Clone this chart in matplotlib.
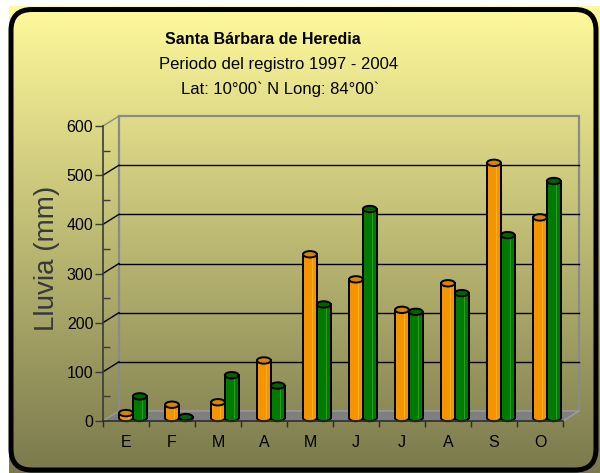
import numpy as np
import matplotlib
matplotlib.use("Agg")
import matplotlib.pyplot as plt
from matplotlib.transforms import ScaledTranslation, IdentityTransform
from matplotlib.patches import Rectangle, Ellipse, Polygon, FancyBboxPatch

plt.rcParams['font.family'] = ['Liberation Sans', 'DejaVu Sans']

# ---------------- data ----------------
months = ['E', 'F', 'M', 'A', 'M', 'J', 'J', 'A', 'S', 'O']
serie_naranja = [10, 27, 32, 117, 333, 282, 220, 274, 519, 408]
serie_verde = [44, 2, 87, 66, 231, 425, 216, 254, 372, 482]
yticks = [0, 100, 200, 300, 400, 500, 600]
title1 = 'Santa Bárbara de Heredia'
title2 = 'Periodo del registro 1997 - 2004'
title3 = 'Lat: 10°00` N Long: 84°00`'
ylabel = 'Lluvia (mm)'

W, H = 600, 473
fig = plt.figure(figsize=(W / 100, H / 100), dpi=100)
fig.patch.set_facecolor('white')

# ---------------- background ----------------
bg = fig.add_axes([0, 0, 1, 1], zorder=-5)
bg.set_xlim(0, W)
bg.set_ylim(H, 0)
bg.axis('off')
top_c = np.array([255, 250, 155]) / 255
bot_c = np.array([122, 121, 76]) / 255
t = np.linspace(0, 1, 256)[:, None]
grad = (top_c[None, :] * (1 - t) + bot_c[None, :] * t)[:, None, :]
bg.imshow(grad, extent=(9, W, H, 7), aspect='auto', interpolation='bilinear', zorder=0)
box = FancyBboxPatch((11, 9.5), 585, 460.5,
                     boxstyle='round,pad=0,rounding_size=21',
                     facecolor='none', edgecolor='black', linewidth=3.6, zorder=2)
bg.add_patch(box)

# ---------------- titles ----------------
def ftext(x, y, s, **kw):
    fig.text(x / W, 1 - y / H, s, ha='center', va='center', **kw)

ftext(263, 40, title1, fontsize=11.5, fontweight='bold', color='black')
ftext(279, 64, title2, fontsize=12, color='black')
ftext(280, 89, title3, fontsize=12, color='black')
ftext(47, 258, ylabel, fontsize=20, color='#383838', rotation=90)

# ---------------- main axes (front plane) ----------------
x0, x1, y0, y1 = 103, 563, 421, 126
ax = fig.add_axes([x0 / W, 1 - y0 / H, (x1 - x0) / W, (y0 - y1) / H])
ax.set_facecolor('none')
ax.set_xlim(0, 10)
ax.set_ylim(0, 600)

back = ax.transData + ScaledTranslation(0.16, 0.10, fig.dpi_scale_trans)
bar_t = ax.transData + ScaledTranslation(0.05, 0.03, fig.dpi_scale_trans)
ident = IdentityTransform()

# back wall outline
ax.add_patch(Rectangle((0, 0), 10, 600, transform=back, facecolor='none',
                       edgecolor='#8a8a8a', linewidth=1.6, clip_on=False, zorder=1))
# back gridlines
for v in yticks[1:-1]:
    ax.plot([0, 10], [v, v], transform=back, color='black', lw=1.0, clip_on=False, zorder=1)

# floor
pts_front = ax.transData.transform([(0, 0), (10, 0)])
pts_back = back.transform([(10, 0), (0, 0)])
floor = Polygon(np.vstack([pts_front, pts_back]), closed=True, transform=ident,
                facecolor='#7f7f7f', edgecolor='#9a9a9a', linewidth=1.0, zorder=1.5,
                clip_on=False)
ax.add_patch(floor)

# diagonal tick connectors from front axis to back wall
for v in yticks[1:]:
    p0 = ax.transData.transform((0, v))
    p1 = back.transform((0, v))
    col = '#8a8a8a' if v == 600 else 'black'
    ax.plot([p0[0], p1[0]], [p0[1], p1[1]], transform=ident, color=col, lw=1.0,
            clip_on=False, zorder=2)
# right floor diagonal
p0 = ax.transData.transform((10, 0))
p1 = back.transform((10, 0))
ax.plot([p0[0], p1[0]], [p0[1], p1[1]], transform=ident, color='#9a9a9a', lw=1.0,
        clip_on=False, zorder=2)

# ---------------- bars (cylinders) ----------------
bw = 0.30
centers = np.arange(len(months)) + 0.54
ell_h = 13  # data units (~6px)
series = [
    (serie_naranja, -bw / 2, '#f39400', '#d98400', '#f9b020'),
    (serie_verde, bw / 2, '#007a00', '#006200', '#2a9a2a'),
]
for i in range(len(months)):
    for vals, off, fc, topc, hic in series:
        xc = centers[i] + off
        v = vals[i]
        # rounded bottom
        ax.add_patch(Ellipse((xc, 0), bw, ell_h, transform=bar_t, facecolor=fc,
                             edgecolor='black', lw=1.4, zorder=3, clip_on=False))
        b = ax.bar([xc], [v], width=bw, color=fc, edgecolor='none', zorder=3.1)
        for p in b:
            p.set_transform(bar_t)
            p.set_clip_on(False)
        ax.plot([xc - bw / 2, xc - bw / 2], [0, v], transform=bar_t, color='black',
                lw=1.4, zorder=3.2, clip_on=False)
        ax.plot([xc + bw / 2, xc + bw / 2], [0, v], transform=bar_t, color='black',
                lw=1.4, zorder=3.2, clip_on=False)
        ax.plot([xc + bw * 0.15, xc + bw * 0.15], [0, v], transform=bar_t, color=hic,
                lw=0.8, zorder=3.15, clip_on=False)
        ax.add_patch(Ellipse((xc, v), bw, ell_h, transform=bar_t, facecolor=topc,
                             edgecolor='black', lw=1.4, zorder=3.3, clip_on=False))

# ---------------- axes styling ----------------
for s in ['top', 'right']:
    ax.spines[s].set_visible(False)
ax.spines['left'].set_color('#3a3a3a')
ax.spines['left'].set_linewidth(1.2)
ax.spines['bottom'].set_color('#2a2a2a')
ax.spines['bottom'].set_linewidth(1.2)
ax.spines['left'].set_zorder(5)
ax.spines['bottom'].set_zorder(5)

ax.set_yticks(yticks)
ax.set_yticklabels([str(v) for v in yticks])
ax.set_yticks(np.arange(50, 600, 100), minor=True)
ax.tick_params(axis='y', which='major', direction='out', length=6, width=1,
               color='#3a3a3a', labelsize=11.5, pad=1)
ax.tick_params(axis='y', which='minor', direction='in', length=5, width=1, color='#3a3a3a')

ax.set_xticks(np.arange(0, 11))
ax.set_xticklabels([''] * 11)
ax.set_xticks(np.arange(len(months)) + 0.5, minor=True)
ax.set_xticklabels(months, minor=True)
ax.tick_params(axis='x', which='major', direction='out', length=4.5, width=1, color='#2a2a2a')
ax.tick_params(axis='x', which='minor', length=0, labelsize=11.5, pad=10)

fig.savefig('out.png', dpi=100, facecolor=fig.get_facecolor())
